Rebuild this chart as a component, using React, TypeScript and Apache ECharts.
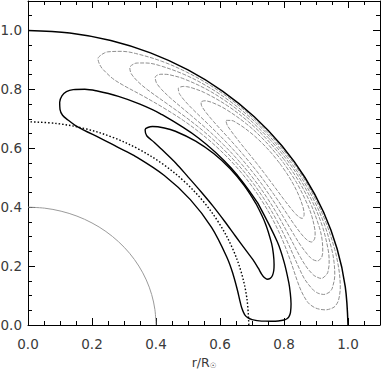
import React, { useEffect, useRef } from 'react';
import * as echarts from 'echarts';

type P = [number, number];

// Axis ranges and tick labels
const AXIS_MAX = 1.1;
const TICK_INTERVAL = 0.2;
const X_NAME = 'r/R';

// Reference circles (r = 1.0 surface, r = 0.69 dotted, r = 0.4 grey)
const SURFACE: P[] = [[1, 0], [0.9914, 0.1305], [0.9659, 0.2588], [0.9239, 0.3827], [0.866, 0.5], [0.7934, 0.6088], [0.7071, 0.7071], [0.6088, 0.7934], [0.5, 0.866], [0.3827, 0.9239], [0.2588, 0.9659], [0.1305, 0.9914], [0, 1]];
const BASE_CZ: P[] = [[0.69, 0], [0.6841, 0.09], [0.6665, 0.1786], [0.6375, 0.2641], [0.5975, 0.345], [0.5474, 0.4201], [0.4879, 0.4879], [0.4201, 0.5474], [0.345, 0.5975], [0.2641, 0.6375], [0.1786, 0.6665], [0.09, 0.6841], [0, 0.69]];
const CORE: P[] = [[0.4, 0], [0.3966, 0.0522], [0.3864, 0.1035], [0.3696, 0.1531], [0.3464, 0.2], [0.3174, 0.2435], [0.2828, 0.2828], [0.2435, 0.3174], [0.2, 0.3464], [0.1531, 0.3696], [0.1035, 0.3864], [0.0522, 0.3966], [0, 0.4]];

// Grey (dashed) contours near surface: outer edge bottom->top, inner edge top->bottom
const G1_OUT: P[] = [[0.9286, 0.0514], [0.9527, 0.0583], [0.9622, 0.0673], [0.9706, 0.085], [0.9759, 0.1285], [0.9736, 0.1716], [0.9674, 0.2144], [0.9585, 0.2568], [0.934, 0.3399], [0.9015, 0.4204], [0.8618, 0.4976], [0.8153, 0.5708], [0.7622, 0.6397], [0.7034, 0.7034], [0.6391, 0.7616], [0.5697, 0.8136], [0.4957, 0.8586], [0.4176, 0.8955], [0.3356, 0.922], [0.2929, 0.9291], [0.2484, 0.9273], [0.2389, 0.9236], [0.2286, 0.9169], [0.2186, 0.904]];
const G1_IN: P[] = [[0.2218, 0.8898], [0.2271, 0.8781], [0.2329, 0.8693], [0.264, 0.8373], [0.2965, 0.8147], [0.3619, 0.7761], [0.4251, 0.7363], [0.486, 0.694], [0.5434, 0.6476], [0.597, 0.597], [0.6464, 0.5424], [0.6911, 0.4839], [0.7307, 0.4219], [0.7654, 0.3569], [0.795, 0.2893], [0.8198, 0.2196], [0.8308, 0.1842], [0.842, 0.1484], [0.8551, 0.1126], [0.8747, 0.0766], [0.8908, 0.0623], [0.9049, 0.0553]];
const G2_OUT: P[] = [[0.9242, 0.1037], [0.9407, 0.1105], [0.9458, 0.1161], [0.9509, 0.1252], [0.9587, 0.169], [0.9565, 0.212], [0.9497, 0.2545], [0.9276, 0.3376], [0.8963, 0.418], [0.8573, 0.495], [0.8112, 0.568], [0.7583, 0.6363], [0.6995, 0.6995], [0.6349, 0.7566], [0.5652, 0.8072], [0.4905, 0.8495], [0.4108, 0.8809], [0.3685, 0.8896], [0.3415, 0.8894], [0.3315, 0.8868], [0.3181, 0.8739]];
const G2_IN: P[] = [[0.3207, 0.8577], [0.3256, 0.8483], [0.3426, 0.8272], [0.3727, 0.7994], [0.434, 0.7516], [0.4936, 0.705], [0.5506, 0.6561], [0.6039, 0.6039], [0.6532, 0.5482], [0.6983, 0.4889], [0.7386, 0.4265], [0.7743, 0.3611], [0.8059, 0.2933], [0.8346, 0.2236], [0.8493, 0.1882], [0.8663, 0.1527], [0.8926, 0.1175], [0.9017, 0.1107], [0.9091, 0.1068]];
const G3_OUT: P[] = [[0.9165, 0.1582], [0.9343, 0.1732], [0.9376, 0.1822], [0.9411, 0.2086], [0.9386, 0.2515], [0.92, 0.3348], [0.8903, 0.4152], [0.8521, 0.492], [0.8064, 0.5646], [0.7538, 0.6326], [0.6949, 0.6949], [0.6301, 0.7508], [0.5597, 0.7993], [0.4834, 0.8372], [0.4422, 0.8495], [0.4336, 0.8509], [0.4153, 0.8514], [0.3975, 0.8408]];
const G3_IN: P[] = [[0.4012, 0.8227], [0.4113, 0.8072], [0.4166, 0.8004], [0.445, 0.7707], [0.5026, 0.7178], [0.5585, 0.6656], [0.6115, 0.6115], [0.6608, 0.5545], [0.7062, 0.4945], [0.7473, 0.4315], [0.7844, 0.3658], [0.8184, 0.2978], [0.8522, 0.2283], [0.8726, 0.1934], [0.8892, 0.1728], [0.8965, 0.1662]];
const G4_OUT: P[] = [[0.9042, 0.2176], [0.9172, 0.2287], [0.9198, 0.2379], [0.9211, 0.2468], [0.919, 0.2898], [0.9105, 0.3314], [0.8832, 0.4118], [0.8461, 0.4885], [0.801, 0.5609], [0.7485, 0.6281], [0.6896, 0.6896], [0.6242, 0.7438], [0.5522, 0.7886], [0.5128, 0.8049], [0.4959, 0.8092], [0.4867, 0.81], [0.4697, 0.8027]];
const G4_IN: P[] = [[0.4727, 0.7867], [0.4772, 0.7787], [0.4871, 0.7646], [0.5137, 0.7337], [0.5679, 0.6767], [0.6201, 0.6201], [0.6693, 0.5617], [0.7151, 0.5007], [0.757, 0.4371], [0.7957, 0.371], [0.833, 0.3032], [0.8529, 0.2689], [0.8769, 0.2349], [0.883, 0.2283], [0.8902, 0.222]];
const G5_OUT: P[] = [[0.8863, 0.2817], [0.8949, 0.2908], [0.8968, 0.3001], [0.8973, 0.309], [0.8961, 0.3261], [0.8874, 0.3676], [0.8741, 0.4076], [0.8388, 0.4843], [0.7945, 0.5563], [0.7422, 0.6228], [0.6828, 0.6828], [0.6159, 0.7339], [0.5786, 0.754], [0.5622, 0.7597], [0.5531, 0.7612], [0.541, 0.7565]];
const G5_IN: P[] = [[0.5419, 0.7459], [0.5459, 0.7377], [0.555, 0.7233], [0.5797, 0.6909], [0.6304, 0.6304], [0.6791, 0.5699], [0.7252, 0.5077], [0.7682, 0.4435], [0.8093, 0.3774], [0.8302, 0.3439], [0.853, 0.3104], [0.8635, 0.2973], [0.8696, 0.291], [0.8769, 0.2849]];
const G6_OUT: P[] = [[0.8567, 0.3619], [0.8629, 0.3752], [0.8624, 0.384], [0.8593, 0.4007], [0.8461, 0.4404], [0.8288, 0.4785], [0.8085, 0.5151], [0.7857, 0.5501], [0.7607, 0.5837], [0.7334, 0.6155], [0.7041, 0.6452], [0.6722, 0.6722], [0.6515, 0.6865], [0.6363, 0.6944], [0.6183, 0.6947]];
const G6_IN: P[] = [[0.6223, 0.6791], [0.6307, 0.6647], [0.6444, 0.6444], [0.6679, 0.612], [0.6915, 0.5803], [0.7149, 0.5485], [0.7377, 0.5165], [0.7601, 0.4842], [0.7823, 0.4517], [0.8049, 0.4189], [0.8287, 0.3864], [0.8395, 0.3738], [0.8455, 0.3676]];

// Black solid contours of the inner cell
const A_OUT: P[] = [[0.7599, 0.0129], [0.782, 0.0136], [0.8002, 0.0168], [0.8092, 0.0212], [0.8156, 0.0285], [0.8203, 0.043], [0.822, 0.0719], [0.8197, 0.1079], [0.815, 0.1437], [0.8001, 0.2144], [0.7787, 0.2834], [0.7178, 0.4145], [0.6349, 0.5328], [0.5327, 0.6348], [0.4141, 0.7171], [0.3497, 0.75], [0.2826, 0.7764], [0.2131, 0.7952], [0.1774, 0.8006], [0.1411, 0.799], [0.12, 0.792], [0.106, 0.778], [0.099, 0.756]];
const A_IN: P[] = [[0.1, 0.732], [0.108, 0.712], [0.125, 0.696], [0.1473, 0.678], [0.1745, 0.662], [0.2285, 0.633], [0.2812, 0.6031], [0.332, 0.575], [0.426, 0.5076], [0.5073, 0.4257], [0.5736, 0.3312], [0.6228, 0.2267], [0.641, 0.1717], [0.6551, 0.1155], [0.6611, 0.087], [0.6678, 0.0585], [0.6769, 0.0355], [0.6878, 0.024], [0.7003, 0.0183], [0.7159, 0.015], [0.7422, 0.013]];
const B_OUT: P[] = [[0.747, 0.1555], [0.757, 0.1585], [0.764, 0.168], [0.768, 0.185], [0.769, 0.2057], [0.7668, 0.2415], [0.7612, 0.277], [0.7414, 0.3457], [0.7127, 0.4115], [0.6758, 0.4732], [0.632, 0.5303], [0.5812, 0.5812], [0.5239, 0.6243], [0.4606, 0.6578], [0.4261, 0.6688], [0.389, 0.6737], [0.366, 0.6627]];
const B_IN: P[] = [[0.371, 0.6426], [0.3949, 0.6199], [0.4176, 0.5964], [0.4615, 0.55], [0.5013, 0.5013], [0.54, 0.4532], [0.5775, 0.4044], [0.6131, 0.354], [0.648, 0.3022], [0.6841, 0.249], [0.7029, 0.2216], [0.7196, 0.1928], [0.73, 0.173], [0.7385, 0.161]];

const GREY_CONTOURS: [P[], P[]][] = [
  [G1_OUT, G1_IN], [G2_OUT, G2_IN], [G3_OUT, G3_IN],
  [G4_OUT, G4_IN], [G5_OUT, G5_IN], [G6_OUT, G6_IN],
];
const BLACK_CONTOURS: [P[], P[]][] = [[A_OUT, A_IN], [B_OUT, B_IN]];

// Build a closed loop starting at the middle of the outer edge
const loop = (outer: P[], inner: P[]): P[] => {
  const m = Math.floor(outer.length / 2);
  return [...outer.slice(m), ...inner, ...outer.slice(0, m + 1)];
};

const FONT = 'DejaVu Sans';
const LABEL_COLOR = '#3a3a3a';

function xAxis(position: 'bottom' | 'top', labels: boolean) {
  return {
    type: 'value', min: 0, max: AXIS_MAX, interval: TICK_INTERVAL, position,
    axisLine: { show: true, onZero: false, lineStyle: { color: '#000', width: 1 } },
    axisTick: { show: true, inside: true, length: 7, lineStyle: { color: '#000', width: 1 } },
    minorTick: { show: true, splitNumber: 4, length: 4, lineStyle: { color: '#000', width: 1 } },
    axisLabel: labels
      ? { show: true, showMaxLabel: false, margin: 12, color: LABEL_COLOR, fontFamily: FONT, fontSize: 13.5, formatter: (v: number) => v.toFixed(1) }
      : { show: false },
    splitLine: { show: false },
    minorSplitLine: { show: false },
    ...(labels
      ? {
          name: `{a|${X_NAME}}{s|☉}`,
          nameLocation: 'middle',
          nameGap: 28,
          nameTextStyle: {
            rich: {
              a: { fontFamily: FONT, fontSize: 12.5, color: LABEL_COLOR, lineHeight: 15, verticalAlign: 'middle' },
              s: { fontFamily: FONT, fontSize: 7.5, color: LABEL_COLOR, lineHeight: 8, verticalAlign: 'bottom' },
            },
          },
        }
      : {}),
  };
}

function yAxis(position: 'left' | 'right', labels: boolean) {
  return {
    type: 'value', min: 0, max: AXIS_MAX, interval: TICK_INTERVAL, position,
    axisLine: { show: true, onZero: false, lineStyle: { color: '#000', width: 1 } },
    axisTick: { show: true, inside: true, length: 7, lineStyle: { color: '#000', width: 1 } },
    minorTick: { show: true, splitNumber: 4, length: 4, lineStyle: { color: '#000', width: 1 } },
    axisLabel: labels
      ? { show: true, showMaxLabel: false, margin: 6, color: LABEL_COLOR, fontFamily: FONT, fontSize: 13.5, formatter: (v: number) => v.toFixed(1) }
      : { show: false },
    splitLine: { show: false },
    minorSplitLine: { show: false },
  };
}

function lineSeries(data: P[], color: string, width: number, type: any, z: number) {
  return {
    type: 'line', data, xAxisIndex: 0, yAxisIndex: 0,
    symbol: 'none', showSymbol: false, smooth: 0.35, silent: true, z,
    lineStyle: { color, width, type },
    emphasis: { disabled: true },
  };
}

export default function App() {
  const ref = useRef<HTMLDivElement>(null);
  useEffect(() => {
    if (!ref.current) return;
    const chart = echarts.init(ref.current, null, { renderer: 'svg' });
    const series: any[] = [];
    series.push(lineSeries(CORE, '#9a9a9a', 1, 'solid', 2));
    series.push(lineSeries(BASE_CZ, '#000', 1.4, [1.5, 2], 3));
    series.push(lineSeries(SURFACE, '#000', 1.5, 'solid', 4));
    GREY_CONTOURS.forEach(([o, i]) => series.push(lineSeries(loop(o, i), '#8f8f8f', 1, [4, 1.5], 2)));
    BLACK_CONTOURS.forEach(([o, i]) => series.push(lineSeries(loop(o, i), '#000', 1.4, 'solid', 3)));

    chart.setOption({
      animation: false,
      backgroundColor: '#fff',
      grid: { left: 28, right: 1, top: 1, bottom: 44, containLabel: false, outerBoundsMode: 'none' },
      xAxis: [xAxis('bottom', true), xAxis('top', false)],
      yAxis: [yAxis('left', true), yAxis('right', false)],
      series,
    });
    return () => chart.dispose();
  }, []);
  return <div ref={ref} style={{ position: 'fixed', left: 0, top: 0, width: 381, height: 369 }} />;
}
